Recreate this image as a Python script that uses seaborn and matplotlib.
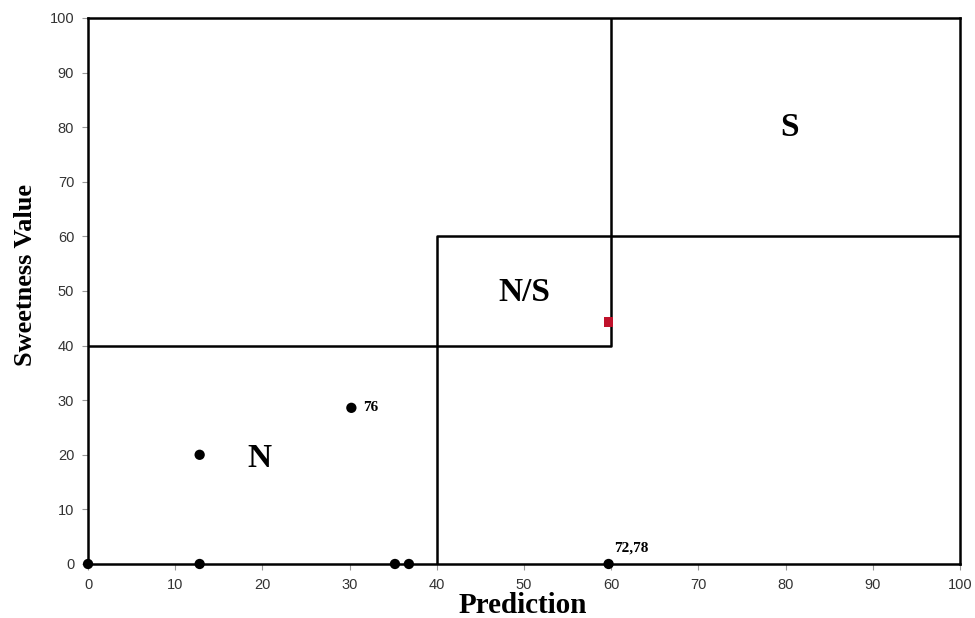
import numpy as np
import pandas as pd
import matplotlib
matplotlib.use("Agg")
import matplotlib.pyplot as plt
import seaborn as sns

# pontos (Prediction, Sweetness Value)
pred = [0, 12.8, 12.8, 30.2, 35.2, 36.8, 59.7]
doce = [0, 0, 20, 28.6, 0, 0, 0]
# ponto vermelho
pred_red = [59.7]
doce_red = [44.3]

# limites das regioes
lim_n_x = [0, 60, 60]
lim_n_y = [40, 40, 100]
lim_s_x = [40, 40, 100]
lim_s_y = [0, 60, 60]

regioes = ["N", "N/S", "S"]
reg_x = [19.7, 50, 80.4]
reg_y = [19.4, 49.8, 79.9]

anot = ["76", "72,78"]
anot_x = [31.5, 60.3]
anot_y = [28.6, 3]

sns.set_style("white")
plt.rcParams['font.family'] = ['Liberation Sans', 'DejaVu Sans']
plt.rcParams['text.color'] = 'black'

fig = plt.figure(figsize=(9.75, 6.18), dpi=100)
ax = fig.add_axes([0.0903, 0.0874, 0.8943, 0.8835])

ax.plot(lim_n_x, lim_n_y, color="black", lw=1.8, zorder=2)
ax.plot(lim_s_x, lim_s_y, color="black", lw=1.8, zorder=2)

df = pd.DataFrame({"Prediction": pred, "Sweetness Value": doce})
sns.scatterplot(data=df, x="Prediction", y="Sweetness Value", color="black",
                s=55, edgecolor="none", ax=ax, zorder=5, clip_on=False)
sns.scatterplot(x=pred_red, y=doce_red, color="#c0122b", marker="s",
                s=45, edgecolor="none", ax=ax, zorder=5)

serif = ['Liberation Serif', 'DejaVu Serif']
for t, x, y in zip(regioes, reg_x, reg_y):
    ax.text(x, y, t, fontsize=24, fontweight="bold", family=serif,
            ha="center", va="center", color="black")
for t, x, y in zip(anot, anot_x, anot_y):
    ax.text(x, y, t, fontsize=11, fontweight="bold", family=serif,
            ha="left", va="center", color="black")

ax.set_xlim(0, 100)
ax.set_ylim(0, 100)
ax.set_xticks(np.arange(0, 101, 10))
ax.set_yticks(np.arange(0, 101, 10))
ax.tick_params(axis="both", direction="out", length=4, width=0.8, color="#999999",
               labelsize=10.5, labelcolor="#333333", pad=6)
ax.tick_params(left=True, bottom=True)
for s in ax.spines.values():
    s.set_color("black")
    s.set_linewidth(1.8)

ax.set_xlabel("Prediction", fontsize=21, fontweight="bold", family=serif, color="black")
ax.set_ylabel("Sweetness Value", fontsize=19, fontweight="bold", family=serif, color="black")
ax.xaxis.set_label_coords(0.499, -0.052)
ax.yaxis.set_label_coords(-0.059, 0.529)

fig.savefig("out.png", dpi=100)
